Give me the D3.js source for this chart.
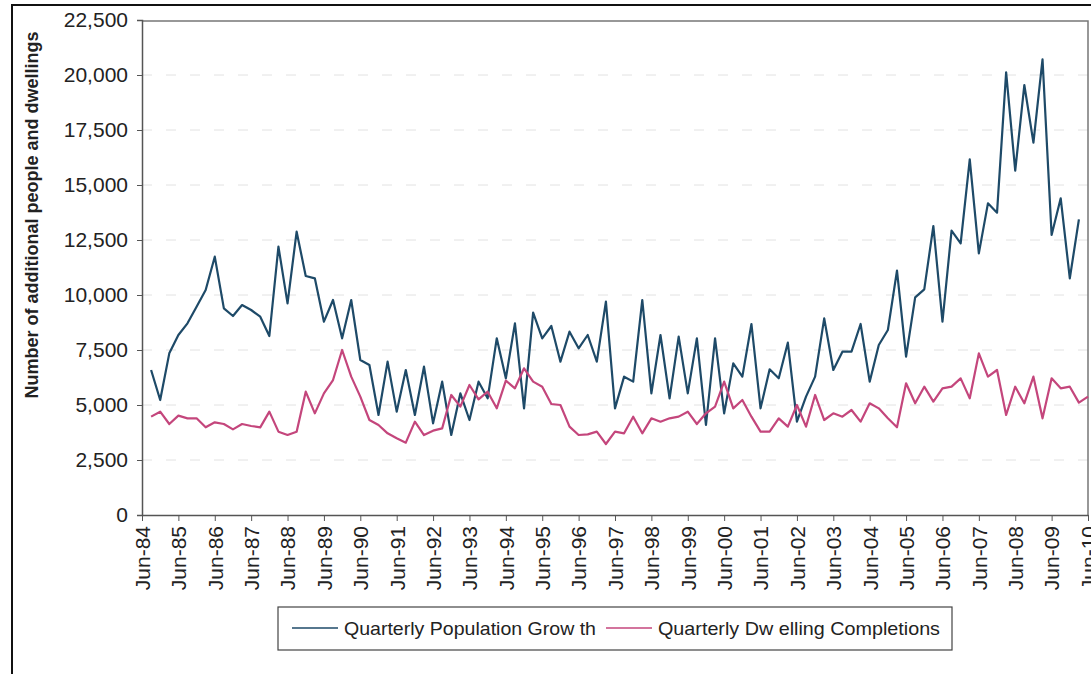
<!DOCTYPE html>
<html>
<head>
<meta charset="utf-8">
<script src="https://cdn.jsdelivr.net/npm/d3@7"></script>
<style>
  html, body { margin: 0; padding: 0; background: #fff; }
  svg { display: block; }
  text { font-family: "Liberation Sans", Arial, sans-serif; fill: #222; }
</style>
</head>
<body>
<svg id="chart" width="1091" height="674"></svg>
<script>
// Quarterly population growth, Sep-84 .. Mar-10
const popGrowth = [6590,5227,7348,8180,8712,9470,10227,11742,9394,9045,9545,9318,9015,8136,12197,9621,12879,10864,10758,8788,
  9773,8030,9773,7045,6818,4545,6970,4697,6590,4545,6742,4167,6061,3636,5530,4318,6061,5303,8030,6212,
  8712,4848,9197,8030,8591,6970,8333,7576,8182,6970,9697,4848,6288,6061,9773,5530,8182,5303,8106,5530,
  8030,4091,8030,4621,6894,6288,8682,4848,6621,6212,7833,4242,5379,6288,8939,6591,7424,7424,8682,6061,
  7727,8409,11106,7197,9894,10258,13136,8788,12924,12348,16167,11894,14167,13742,20121,15652,19545,16924,20712,12727,
  14394,10758,13439];
// Quarterly dwelling completions, Sep-84 .. Jun-10
const dwellings = [4470,4697,4136,4515,4394,4394,3985,4212,4136,3894,4136,4045,3985,4697,3788,3636,3788,5606,4621,5530,
  6136,7500,6288,5379,4318,4090,3712,3485,3288,4242,3636,3833,3939,5455,4924,5909,5258,5606,4848,6106,
  5758,6667,6061,5833,5045,5000,4015,3636,3667,3788,3227,3788,3712,4470,3712,4394,4242,4394,4470,4697,
  4136,4621,4924,6061,4848,5227,4470,3788,3788,4394,4015,5000,4015,5455,4318,4621,4470,4773,4242,5076,
  4848,4394,3985,5985,5076,5833,5152,5758,5833,6212,5303,7348,6288,6591,4545,5833,5076,6288,4394,6212,
  5758,5833,5106,5379];
const tickLabels = ["Jun-84","Jun-85","Jun-86","Jun-87","Jun-88","Jun-89","Jun-90","Jun-91","Jun-92","Jun-93",
  "Jun-94","Jun-95","Jun-96","Jun-97","Jun-98","Jun-99","Jun-00","Jun-01","Jun-02","Jun-03",
  "Jun-04","Jun-05","Jun-06","Jun-07","Jun-08","Jun-09","Jun-10"];
const yTicks = [0,2500,5000,7500,10000,12500,15000,17500,20000,22500];
const seriesNames = ["Quarterly Population Grow th", "Quarterly Dw elling Completions"];
const seriesColors = ["#1e4a68", "#c4467c"];

(function () {
const svg = d3.select("#chart");
const pL = 142, pR = 1088, pT = 20, pB = 515;

const x = d3.scaleLinear().domain([0, (tickLabels.length - 1) * 4]).range([pL, pR]);
const y = d3.scaleLinear().domain([0, 22500]).range([pB, pT]);

// outer frame
svg.append("rect").attr("x", 12).attr("y", 5).attr("width", 1100).attr("height", 700)
  .attr("fill", "none").attr("stroke", "#111").attr("stroke-width", 2);

// gridlines (faint, dashed)
svg.append("g").selectAll("line").data(yTicks.filter(d => d > 0 && d < 22500)).join("line")
  .attr("x1", pL).attr("x2", pR).attr("y1", d => y(d)).attr("y2", d => y(d))
  .attr("stroke", "#e2e2e2").attr("stroke-width", 1).attr("stroke-dasharray", "10,14");

// plot border (top/right)
svg.append("path")
  .attr("d", `M${pL},${y(22500)+1}H${pR}V${pB}`)
  .attr("fill", "none").attr("stroke", "#777").attr("stroke-width", 1.5);

// y axis
const yAxis = d3.axisLeft(y).tickValues(yTicks).tickFormat(d3.format(",")).tickSize(5).tickPadding(9);
const gy = svg.append("g").attr("transform", `translate(${pL},0)`).call(yAxis);
gy.select(".domain").attr("stroke", "#555").attr("stroke-width", 1.5);
gy.selectAll(".tick line").attr("stroke", "#555");
gy.selectAll("text").style("font-size", "21px").attr("fill", "#222");

// x axis
const xAxis = d3.axisBottom(x).tickValues(tickLabels.map((d, i) => i * 4))
  .tickFormat((d, i) => tickLabels[i]).tickSize(6).tickSizeOuter(0);
const gx = svg.append("g").attr("transform", `translate(0,${pB})`).call(xAxis);
gx.select(".domain").attr("stroke", "#555").attr("stroke-width", 1.5);
gx.selectAll(".tick line").attr("stroke", "#555");
gx.selectAll("text").style("font-size", "21px").attr("fill", "#222")
  .attr("transform", "rotate(-90)").attr("text-anchor", "end")
  .attr("x", -11).attr("y", 0).attr("dy", "0.35em");

// y title
svg.append("text").attr("transform", "translate(38,215) rotate(-90)")
  .attr("text-anchor", "middle").style("font-size", "18px").style("font-weight", "bold")
  .text("Number of additional people and dwellings");

// lines
const line = d3.line().x(d => x(d.q)).y(d => y(d.v));
[popGrowth, dwellings].forEach((arr, k) => {
  svg.append("path").datum(arr.map((v, i) => ({ q: i + 1, v })))
    .attr("d", line).attr("fill", "none").attr("stroke", seriesColors[k])
    .attr("stroke-width", 2.2).attr("stroke-linejoin", "round");
});

// legend
const lg = svg.append("g");
lg.append("rect").attr("x", 278).attr("y", 607).attr("width", 674).attr("height", 43)
  .attr("fill", "#fff").attr("stroke", "#444").attr("stroke-width", 1.2);
const legendItems = [{ x1: 292, tx: 344, w: 252 }, { x1: 606, tx: 658, w: 282 }];
legendItems.forEach((it, k) => {
  lg.append("line").attr("x1", it.x1).attr("x2", it.x1 + 46).attr("y1", 628).attr("y2", 628)
    .attr("stroke", seriesColors[k]).attr("stroke-width", 1.5);
  lg.append("text").attr("x", it.tx).attr("y", 635).style("font-size", "19px")
    .attr("textLength", it.w).attr("lengthAdjust", "spacingAndGlyphs").text(seriesNames[k]);
});
})();
</script>
</body>
</html>
